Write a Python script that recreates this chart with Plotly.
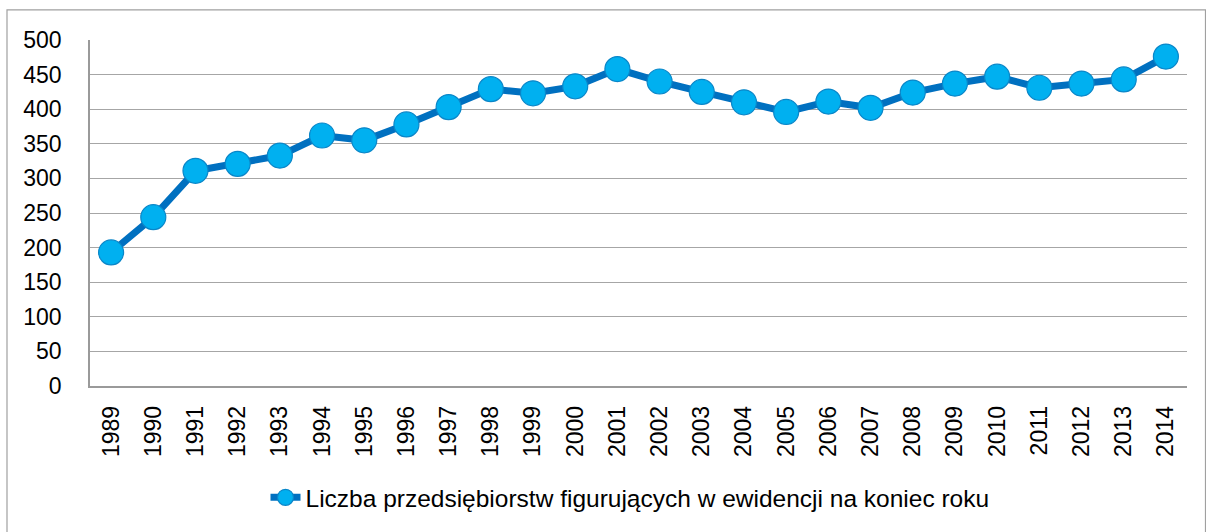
import plotly.graph_objects as go

years = [str(y) for y in range(1989, 2015)]
values = [193, 244, 311, 321, 333, 362, 355, 378, 403, 429, 423, 433, 458, 440,
          425, 410, 396, 411, 402, 424, 437, 447, 431, 437, 443, 476]
y_ticks = list(range(0, 501, 50))
series_name = "Liczba przedsiębiorstw figurujących w ewidencji na koniec roku"

FONT = "Liberation Sans"

fig = go.Figure()
fig.add_trace(go.Scatter(
    x=years, y=values, mode="lines+markers", name=series_name,
    line=dict(color="#0070C0", width=7),
    marker=dict(size=25, color="#00B0F0", line=dict(color="#0A86C8", width=1.2)),
))

W, H = 1206, 532
L, R, T, B = 90, 19, 40, 146.3
pw, ph = W - L - R, H - T - B

def px_x(v):
    return (v - L) / pw

def px_y(v):
    return (H - B - v) / ph

fig.update_layout(
    width=W, height=H,
    margin=dict(l=L, r=R, t=T, b=B),
    paper_bgcolor="white", plot_bgcolor="white",
    font=dict(family=FONT, size=23, color="black"),
    showlegend=True,
    legend=dict(orientation="h", x=px_x(630), xanchor="center",
                y=px_y(497), yanchor="middle", font=dict(size=24.5),
                bgcolor="rgba(0,0,0,0)"),
    xaxis=dict(type="category", tickangle=-90, showgrid=False,
               showline=True, linecolor="#9A9A9A", linewidth=1.5,
               ticks="outside", ticklen=9, tickcolor="rgba(0,0,0,0)",
               tickfont=dict(size=23), range=[-0.5, len(years) - 0.5]),
    yaxis=dict(range=[0, 500], tickvals=y_ticks, showgrid=True,
               gridcolor="#A6A6A6", gridwidth=1.2,
               showline=True, linecolor="#9A9A9A", linewidth=1.5,
               zeroline=False, ticks="outside", ticklen=22,
               tickcolor="rgba(0,0,0,0)", tickfont=dict(size=23)),
    shapes=[dict(type="rect", xref="paper", yref="paper",
                 x0=px_x(7), x1=px_x(1205.5), y0=px_y(545), y1=px_y(10),
                 line=dict(color="#A0A0A0", width=1.2), layer="below")],
)

fig.write_html("out.html", config={"displayModeBar": False},
               post_script="document.body.style.margin='0';document.body.style.overflow='hidden';")
